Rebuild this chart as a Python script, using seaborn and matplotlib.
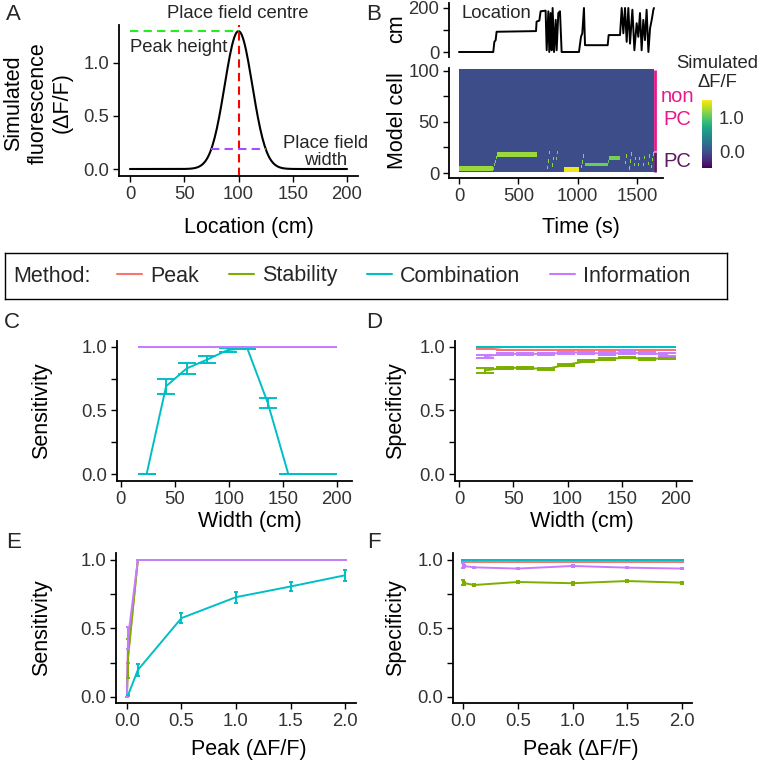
import numpy as np
import pandas as pd
import matplotlib
matplotlib.use('Agg')
import matplotlib.pyplot as plt
from matplotlib.lines import Line2D
import seaborn as sns

# ---- data ----
method_names = ['Peak', 'Stability', 'Combination', 'Information']
method_colors = ['#F8766D', '#7CAE00', '#00BFC4', '#C77CFF']

# A: model place field
field_centre = 100
field_peak = 1.3
field_sd = 12.75
field_width_level = 0.19
field_width_bounds = [75, 125]
track_cm = [0, 200]

# B: location trace (s, cm)
loc_time = [0, 289, 298, 309, 317, 649, 654, 677, 688, 730, 739, 753, 761, 772, 781, 789,
            801, 815, 823, 837, 851, 865, 1011, 1028, 1039, 1053, 1062, 1253, 1261, 1357,
            1371, 1385, 1399, 1413, 1427, 1441, 1461, 1478, 1497, 1511, 1525, 1539, 1553,
            1567, 1581, 1596, 1610, 1624, 1638, 1643]
loc_cm = [0, 0, 46, 54, 92, 95, 138, 143, 185, 188, 8, 185, 0, 177, 8, 200,
          0, 146, 8, 177, 185, 0, 0, 69, 85, 200, 31, 31, 77, 77,
          200, 85, 200, 46, 200, 38, 192, 8, 131, 69, 177, 8, 146,
          54, 192, 0, 108, 146, 192, 200]

# B: active stretches in the raster (time window, cell row at start/end, half thickness, dF/F)
seg_start = [0, 290, 320, 742, 782, 812, 880, 1026, 1062, 1253, 1262,
             1394, 1433, 1471, 1506, 1546, 1588, 1618]
seg_end = [290, 320, 660, 762, 802, 830, 1012, 1054, 1253, 1262, 1357,
           1414, 1453, 1491, 1526, 1566, 1608, 1638]
seg_row_from = [4, 4, 17.5, 3, 4, 8, 3, 3, 8, 8, 14.3, 5, 4, 4, 5, 4, 5, 6]
seg_row_to = [4, 17, 17.5, 19, 20, 20, 3, 20, 8, 14, 14.3, 20, 20, 19, 20, 19, 20, 20]
seg_half_rows = [2.4, 1.6, 2.0, 1.6, 1.6, 1.6, 2.6, 1.6, 1.9, 1.6, 1.9,
                 1.6, 1.6, 1.6, 1.6, 1.6, 1.6, 1.6]
seg_dff = [1.2, 1.1, 1.2, 1.15, 1.15, 1.1, 1.45, 1.15, 1.05, 1.0, 1.1,
           1.15, 1.15, 1.15, 1.15, 1.15, 1.15, 1.15]
rec_length_s = 1640
n_cells = 100
n_place_cells = 20

# C/D: varying place field width
width_cm = [24, 42, 61, 80, 99, 117, 136, 155, 173, 192]
sens_w = {
    'Peak': [1.0] * 10,
    'Stability': [1.0] * 10,
    'Combination': [0.0, 0.69, 0.83, 0.90, 0.975, 0.99, 0.56, 0.0, 0.0, 0.0],
    'Information': [1.0] * 10,
}
sens_w_err = {
    'Peak': [0.0] * 10,
    'Stability': [0.0] * 10,
    'Combination': [0.0, 0.06, 0.04, 0.03, 0.015, 0.01, 0.04, 0.0, 0.0, 0.0],
    'Information': [0.0] * 10,
}
spec_w = {
    'Peak': [0.99, 0.975, 0.975, 0.975, 0.975, 0.975, 0.975, 0.975, 0.975, 0.975],
    'Stability': [0.815, 0.835, 0.835, 0.825, 0.86, 0.885, 0.905, 0.915, 0.905, 0.91],
    'Combination': [1.0] * 10,
    'Information': [0.925, 0.945, 0.945, 0.945, 0.955, 0.955, 0.945, 0.955, 0.95, 0.94],
}
spec_w_err = {
    'Peak': [0.003] * 10,
    'Stability': [0.02, 0.007, 0.007, 0.008, 0.008, 0.008, 0.01, 0.006, 0.008, 0.008],
    'Combination': [0.0] * 10,
    'Information': [0.012, 0.01, 0.01, 0.01, 0.008, 0.008, 0.012, 0.01, 0.01, 0.01],
}

# E/F: varying peak height
peak_dff = [0.0, 0.01, 0.1, 0.5, 1.0, 1.5, 2.0]
sens_p = {
    'Peak': [0.0, 0.30, 1.0, 1.0, 1.0, 1.0, 1.0],
    'Stability': [0.0, 0.28, 1.0, 1.0, 1.0, 1.0, 1.0],
    'Combination': [0.0, 0.01, 0.195, 0.575, 0.728, 0.806, 0.888],
    'Information': [0.0, 0.43, 1.0, 1.0, 1.0, 1.0, 1.0],
}
sens_p_err = {
    'Peak': [0.0, 0.05, 0.0, 0.0, 0.0, 0.0, 0.0],
    'Stability': [0.0, 0.14, 0.0, 0.0, 0.0, 0.0, 0.0],
    'Combination': [0.0, 0.005, 0.045, 0.035, 0.04, 0.03, 0.04],
    'Information': [0.0, 0.08, 0.0, 0.0, 0.0, 0.0, 0.0],
}
spec_p = {
    'Peak': [0.985] * 7,
    'Stability': [0.835, 0.83, 0.817, 0.839, 0.83, 0.846, 0.834],
    'Combination': [1.0] * 7,
    'Information': [0.96, 0.955, 0.946, 0.937, 0.956, 0.944, 0.937],
}
spec_p_err = {
    'Peak': [0.003] * 7,
    'Stability': [0.015, 0.012, 0.01, 0.008, 0.01, 0.007, 0.008],
    'Combination': [0.0] * 7,
    'Information': [0.02, 0.01, 0.006, 0.006, 0.006, 0.006, 0.006],
}

# ---- style ----
sns.set_theme(style='ticks')
plt.rcParams['font.family'] = ['Liberation Sans', 'DejaVu Sans']
plt.rcParams['axes.linewidth'] = 1.2

W, H = 759, 762
TICK_FS = 13.3
LAB_FS = 15.5
NOTE_FS = 13.3
fig = plt.figure(figsize=(W / 100, H / 100), dpi=100)
palette = dict(zip(method_names, method_colors))


def rect(l, t, r, b):
    return [l / W, 1 - b / H, (r - l) / W, (b - t) / H]


def style(ax):
    sns.despine(ax=ax)
    for s in ['left', 'bottom']:
        ax.spines[s].set_color('black')
        ax.spines[s].set_linewidth(1.3)
    ax.tick_params(length=4, width=1.0, color='black', labelsize=TICK_FS,
                   labelcolor='#333333', pad=3)
    ax.set_facecolor('white')


def xlab(ax, text, x_px, y_px):
    ax.set_xlabel(text, fontsize=LAB_FS, color='black')
    ax.xaxis.set_label_coords(x_px / W, 1 - y_px / H, transform=fig.transFigure)
    ax.xaxis.label.set_va('center')


def ylab(ax, text, x_px, y_px):
    ax.set_ylabel(text, fontsize=LAB_FS, color='black')
    ax.yaxis.set_label_coords(x_px / W, 1 - y_px / H, transform=fig.transFigure)
    ax.yaxis.label.set_va('center')


def letter(s, x_px, y_px):
    fig.text(x_px / W, 1 - y_px / H, s, fontsize=16, ha='center', va='center')


def unit_yticks(ax):
    ax.set_yticks([0, 0.25, 0.5, 0.75, 1.0])
    ax.set_yticklabels(['0.0', '', '0.5', '', '1.0'])


def method_panel(ax, xs, means, errs, capsize):
    rows = []
    for m in method_names:
        for x, v in zip(xs, means[m]):
            rows.append({'x': x, 'value': v, 'method': m})
    df = pd.DataFrame(rows)
    sns.lineplot(data=df, x='x', y='value', hue='method', hue_order=method_names,
                 palette=palette, estimator=None, sort=True, linewidth=1.4,
                 legend=False, ax=ax)
    for m in method_names:
        ax.errorbar(xs, means[m], yerr=errs[m], fmt='none', ecolor=palette[m],
                    elinewidth=1.4, capsize=capsize, capthick=1.4)


# ---- A ----
axA = fig.add_axes(rect(119, 25, 358, 176))
loc_grid = np.arange(track_cm[0], track_cm[1] + 1)
dff_curve = field_peak * np.exp(-(loc_grid - field_centre) ** 2 / (2 * field_sd ** 2))
sns.lineplot(x=loc_grid, y=dff_curve, color='black', linewidth=1.5, ax=axA)
axA.plot([0, field_centre], [field_peak, field_peak], color='#22EE22', lw=1.5, dashes=(4, 2.5))
axA.axvline(field_centre, color='#FF0000', lw=1.5, dashes=(4, 2.5))
axA.plot(field_width_bounds, [field_width_level] * 2, color='#A64DFF', lw=1.5, dashes=(4, 2.5))
axA.set_xlim(-10.1, 210.1)
axA.set_ylim(-0.066, 1.358)
axA.set_xticks([0, 50, 100, 150, 200])
axA.set_yticks([0, 0.5, 1.0])
axA.set_yticklabels(['0.0', '0.5', '1.0'])
style(axA)
axA.text(0, 1.15, 'Peak height', fontsize=NOTE_FS, ha='left', va='center')
fig.text(238 / W, 1 - 13 / H, 'Place field centre', fontsize=NOTE_FS, ha='center', va='center')
axA.text(180, 0.165, 'Place field\nwidth', fontsize=NOTE_FS, ha='center', va='center',
         multialignment='center', linespacing=1.0, clip_on=False)
xlab(axA, 'Location (cm)', 249, 228)
ylab(axA, 'Simulated\nfluorescence\n(ΔF/F)', 38, 103)
letter('A', 13, 15)

# ---- B top: location ----
axBt = fig.add_axes(rect(449, 3, 663, 57))
sns.lineplot(x=loc_time, y=loc_cm, sort=False, estimator=None, color='black',
             linewidth=1.4, ax=axBt)
axBt.set_xlim(-84, 1719)
axBt.set_ylim(-22.7, 222.7)
style(axBt)
sns.despine(ax=axBt, bottom=True)
axBt.set_xticks([])
axBt.set_yticks([0, 100, 200])
axBt.set_yticklabels(['0', '', '200'])
axBt.text(25, 177, 'Location', fontsize=NOTE_FS, ha='left', va='center')
ylab(axBt, 'cm', 397, 29)
letter('B', 374, 14)

# ---- B heatmap ----
axB = fig.add_axes(rect(449, 68, 663, 178))
dt = 1
t_centres = np.arange(dt / 2, rec_length_s, dt)
cells = np.arange(1, n_cells + 1)
act = np.zeros((n_cells, len(t_centres)))
for t0, t1, r0, r1, half, val in zip(seg_start, seg_end, seg_row_from, seg_row_to,
                                     seg_half_rows, seg_dff):
    sel = (t_centres >= t0) & (t_centres <= t1)
    frac = (t_centres[sel] - t0) / max(t1 - t0, 1)
    centre = r0 + (r1 - r0) * frac
    hit = np.abs(cells[:, None] - centre[None, :]) <= half
    block = act[:, sel]
    block[hit] = np.maximum(block[hit], val)
    act[:, sel] = block
vmin, vmax = -0.46, 1.49
im = axB.imshow(act, extent=[0, rec_length_s, 0.5, n_cells + 0.5], origin='lower',
                aspect='auto', cmap='viridis', vmin=vmin, vmax=vmax,
                interpolation='nearest')
axB.set_xlim(-84, 1719)
axB.set_ylim(-4.9, 102.9)
style(axB)
axB.set_xticks([0, 500, 1000, 1500])
axB.set_yticks([0, 25, 50, 75, 100])
axB.set_yticklabels(['0', '', '50', '', '100'])
bar_x = 1655
axB.plot([bar_x, bar_x], [n_place_cells + 1.5, n_cells + 0.5], color='#E6198C', lw=2,
         solid_capstyle='butt', clip_on=False)
axB.plot([bar_x, bar_x], [0.5, n_place_cells + 0.5], color='#5C1A5E', lw=2,
         solid_capstyle='butt', clip_on=False)
axB.text(1837, 74.5, 'non', color='#E6198C', fontsize=14.5, ha='center', va='center',
         clip_on=False)
axB.text(1837, 52, 'PC', color='#E6198C', fontsize=14.5, ha='center', va='center',
         clip_on=False)
axB.text(1837, 10.8, 'PC', color='#5C1A5E', fontsize=14.5, ha='center', va='center',
         clip_on=False)
xlab(axB, 'Time (s)', 581, 228)
ylab(axB, 'Model cell', 397, 121)

cax = fig.add_axes(rect(702, 100, 712, 168))
cb = fig.colorbar(im, cax=cax, ticks=[0.0, 1.0])
cb.outline.set_visible(False)
cb.set_ticklabels(['0.0', '1.0'])
cax.tick_params(length=3, width=1, color='white', direction='in', labelsize=TICK_FS,
                labelcolor='#333333', pad=5)
cax.yaxis.set_ticks_position('both')
cax.tick_params(labelleft=False, labelright=True)
fig.text(717 / W, 1 - 73 / H, 'Simulated\nΔF/F', fontsize=NOTE_FS, ha='center',
         va='center', multialignment='center', linespacing=1.15)

# ---- legend ----
axL = fig.add_axes(rect(5, 253, 727, 299))
axL.set_xticks([])
axL.set_yticks([])
for s in axL.spines.values():
    s.set_visible(True)
    s.set_color('black')
    s.set_linewidth(1.0)
axL.text(8 / 722, 0.5, 'Method:', fontsize=LAB_FS, ha='left', va='center',
         transform=axL.transAxes)
handles = [Line2D([], [], color=c, lw=1.5) for c in method_colors]
fs_px = LAB_FS * 100 / 72
axL.legend(handles, method_names, ncol=4, loc='center left',
           bbox_to_anchor=((117 - 5) / 722, 0.5), frameon=False, fontsize=LAB_FS,
           handlelength=25 / fs_px, handletextpad=8 / fs_px, columnspacing=30 / fs_px,
           borderpad=0, borderaxespad=0)

# ---- C ----
axC = fig.add_axes(rect(117, 341, 352, 481))
method_panel(axC, width_cm, sens_w, sens_w_err, capsize=6.3)
axC.set_xlim(-3.4, 213.9)
axC.set_ylim(-0.055, 1.046)
axC.set_xticks([0, 50, 100, 150, 200])
unit_yticks(axC)
style(axC)
xlab(axC, 'Width (cm)', 250, 522)
ylab(axC, 'Sensitivity', 42, 411)
letter('C', 12, 322)

# ---- D ----
axD = fig.add_axes(rect(455, 341, 692, 481))
method_panel(axD, width_cm, spec_w, spec_w_err, capsize=6.3)
axD.set_xlim(-3.7, 214.7)
axD.set_ylim(-0.055, 1.046)
axD.set_xticks([0, 50, 100, 150, 200])
unit_yticks(axD)
style(axD)
xlab(axD, 'Width (cm)', 582, 522)
ylab(axD, 'Specificity', 396, 411)
letter('D', 374, 322)

# ---- E ----
axE = fig.add_axes(rect(116, 553, 356, 703))
method_panel(axE, peak_dff, sens_p, sens_p_err, capsize=1.2)
axE.set_xlim(-0.10, 2.10)
axE.set_ylim(-0.046, 1.051)
axE.set_xticks([0, 0.5, 1.0, 1.5, 2.0])
axE.set_xticklabels(['0.0', '0.5', '1.0', '1.5', '2.0'])
unit_yticks(axE)
style(axE)
xlab(axE, 'Peak (ΔF/F)', 249, 750)
ylab(axE, 'Sensitivity', 42, 628)
letter('E', 14, 543)

# ---- F ----
axF = fig.add_axes(rect(453, 553, 692, 703))
method_panel(axF, peak_dff, spec_p, spec_p_err, capsize=1.2)
axF.set_xlim(-0.095, 2.094)
axF.set_ylim(-0.046, 1.051)
axF.set_xticks([0, 0.5, 1.0, 1.5, 2.0])
axF.set_xticklabels(['0.0', '0.5', '1.0', '1.5', '2.0'])
unit_yticks(axF)
style(axF)
xlab(axF, 'Peak (ΔF/F)', 581, 750)
ylab(axF, 'Specificity', 396, 628)
letter('F', 374, 543)

fig.savefig('out.png', dpi=100, facecolor='white')
